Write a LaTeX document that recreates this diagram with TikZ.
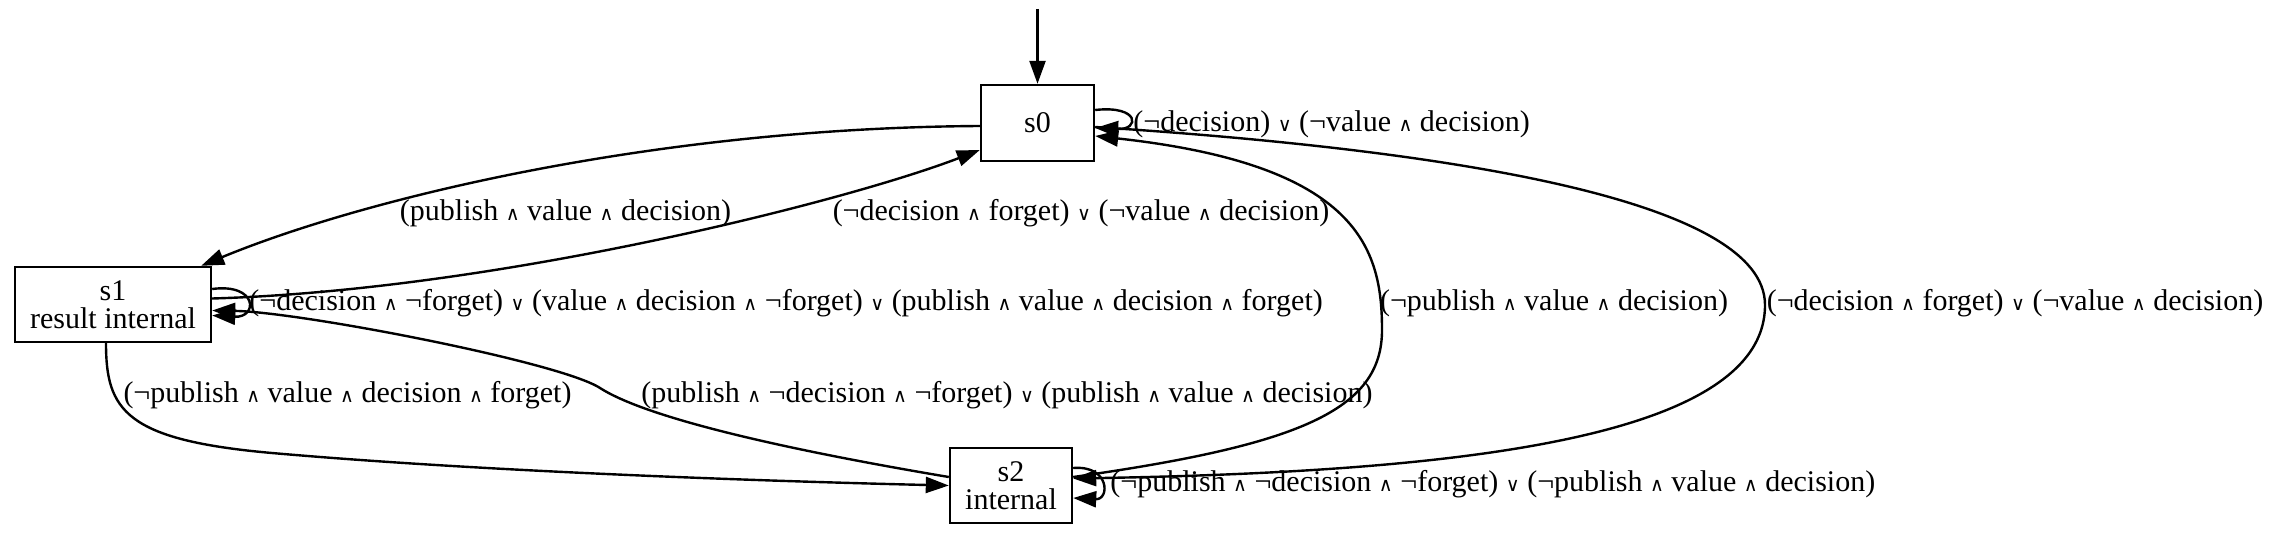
\documentclass[tikz,border=0pt]{standalone}
\usepackage{fontspec}
\setmainfont{Liberation Serif}
\newfontfamily\symfont{DejaVu Serif}
\usetikzlibrary{arrows.meta,calc}
\newcommand\AND{{\symfont\fontsize{9.5}{9.5}\selectfont ∧}}
\newcommand\OR{{\symfont\fontsize{9.5}{9.5}\selectfont ∨}}
\tikzset{
  st/.style={draw, line width=1.2pt, rectangle, inner sep=0pt, align=center,
             font=\fontsize{15}{14}\selectfont},
  lbl/.style={inner sep=0pt, font=\fontsize{15}{14}\selectfont},
  tr/.style={draw, line width=1.2pt, -{Triangle[length=11.5pt,width=8pt]}},
}
\begin{document}
\begin{tikzpicture}[x=0.5pt, y=-0.5pt]
\useasboundingbox (0,0) rectangle (2274,540);

% states
\node[st, minimum width=56.5pt, minimum height=38pt] (s0) at (1037.5,123) {s0};
\node[st, minimum width=98pt, minimum height=37.5pt] (s1) at (113,304.5) {s1\\result internal};
\node[st, minimum width=61pt, minimum height=37.5pt] (s2) at (1011,485.5) {s2\\internal};

% helper points
\coordinate (init) at (1037.5,9);
\coordinate (w1) at (600,388);
\coordinate (w2) at (272,453);
\coordinate (w3) at (1382,330);
\coordinate (w4) at (1765,305);

% initial
\draw[tr] (init) -- (s0.north);

% s0 self loop
\draw[tr] ($(s0.east)+(0,-13)$) .. controls (1140,105) and (1140,130) .. ($(s0.east)+(0,5)$);
% s0 -> s1
\draw[tr] ($(s0.west)+(0,3)$) .. controls (650,128) and (360,200) .. ($(s1.north east)+(-11,0)$);
% s1 -> s0
\draw[tr] ($(s1.east)+(0,-6)$) .. controls (500,290) and (850,200) .. ($(s0.west)+(0,27)$);
% s1 self loop
\draw[tr] ($(s1.east)+(0,-15.5)$) .. controls (258,283) and (258,318) .. ($(s1.east)+(0,11)$);
% s2 -> s1
\draw[tr] ($(s2.west)+(0,-8.5)$) .. controls (800,452) and (650,420) .. (w1)
          .. controls (560,362) and (300,312) .. ($(s1.east)+(0,6)$);
% s1 -> s2
\draw[tr] ($(s1.south)+(-7,0)$) .. controls (106,410) and (125,440) .. (w2)
          .. controls (500,473) and (800,482) .. (s2.west);
% s2 -> s0 (inner)
\draw[tr] ($(s2.east)+(0,-8.5)$) .. controls (1300,445) and (1382,410) .. (w3)
          .. controls (1382,250) and (1360,165) .. ($(s0.east)+(0,13)$);
% s0 -> s2 (outer)
\draw[tr] ($(s0.east)+(0,4)$) .. controls (1450,150) and (1765,200) .. (w4)
          .. controls (1765,440) and (1450,472) .. ($(s2.east)+(0,-7)$);
% s2 self loop
\draw[tr] ($(s2.east)+(0,-17.5)$) .. controls (1110,465) and (1110,500) .. ($(s2.east)+(0,12.5)$);

% labels
\node[lbl, anchor=west] (l00) at (1133,124) {(¬decision) \OR{} (¬value \AND{} decision)};
\node[lbl] (l01) at (565.5,213) {(publish \AND{} value \AND{} decision)};
\node[lbl] (l10) at (1081,213) {(¬decision \AND{} forget) \OR{} (¬value \AND{} decision)};
\node[lbl, anchor=west] (l11) at (249,303) {(¬decision \AND{} ¬forget) \OR{} (value \AND{} decision \AND{} ¬forget) \OR{} (publish \AND{} value \AND{} decision \AND{} forget)};
\node[lbl] (l12) at (347.5,395) {(¬publish \AND{} value \AND{} decision \AND{} forget)};
\node[lbl] (l21) at (1007,395) {(publish \AND{} ¬decision \AND{} ¬forget) \OR{} (publish \AND{} value \AND{} decision)};
\node[lbl] (l20) at (1554,303) {(¬publish \AND{} value \AND{} decision)};
\node[lbl] (l02) at (2015,303) {(¬decision \AND{} forget) \OR{} (¬value \AND{} decision)};
\node[lbl, anchor=west] (l22) at (1110,484) {(¬publish \AND{} ¬decision \AND{} ¬forget) \OR{} (¬publish \AND{} value \AND{} decision)};
\end{tikzpicture}
\end{document}
